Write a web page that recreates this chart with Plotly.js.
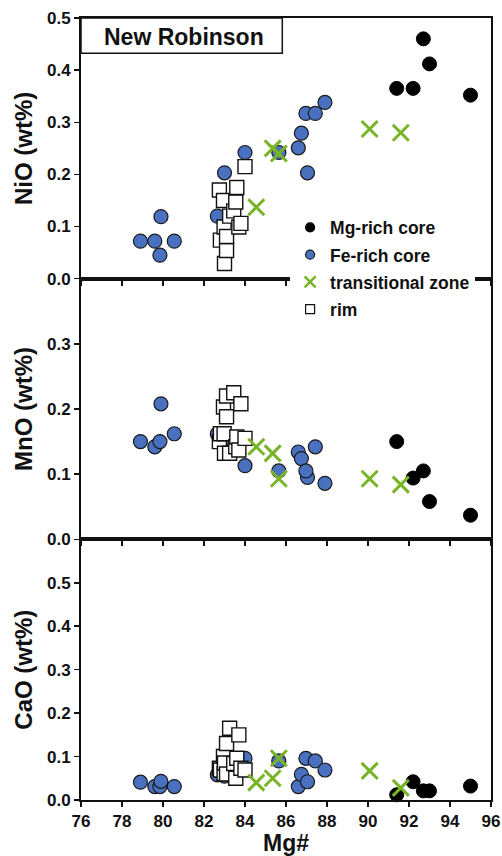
<!DOCTYPE html>
<html><head><meta charset="utf-8">
<script src="https://cdn.plot.ly/plotly-3.0.1.min.js"></script>
<style>html,body{margin:0;padding:0;background:#fff}</style>
</head><body><div id="chart" style="width:502px;height:856px"></div>
<script>
// Mg-rich core
const mgX   = [91.4, 92.2, 92.7, 93.0, 95.0];
const mgNiO = [0.365, 0.365, 0.460, 0.412, 0.352];
const mgMnO = [0.150, 0.094, 0.105, 0.058, 0.037];
const mgCaO = [0.012, 0.042, 0.021, 0.021, 0.032];
// Fe-rich core
const feX   = [78.9, 79.6, 79.85, 79.9, 80.55, 82.65, 83.0, 84.0, 85.65, 86.6, 86.75, 87.05, 86.97, 87.43, 87.9];
const feNiO = [0.072, 0.072, 0.045, 0.119, 0.072, 0.120, 0.203, 0.242, 0.242, 0.251, 0.279, 0.203, 0.317, 0.317, 0.338];
const feMnO = [0.150, 0.142, 0.150, 0.208, 0.162, 0.162, 0.155, 0.113, 0.105, 0.134, 0.124, 0.095, 0.105, 0.142, 0.086];
const feCaO = [0.041, 0.031, 0.031, 0.043, 0.031, 0.058, 0.055, 0.096, 0.090, 0.031, 0.059, 0.042, 0.096, 0.090, 0.069];
// transitional zone
const tzX   = [84.55, 85.35, 85.65, 90.08, 91.6];
const tzNiO = [0.137, 0.250, 0.240, 0.287, 0.280];
const tzMnO = [0.142, 0.132, 0.093, 0.093, 0.084];
const tzCaO = [0.040, 0.050, 0.096, 0.067, 0.028];
// rim
const rimX   = [82.75, 82.8, 82.95, 82.98, 83.0, 83.1, 83.1, 83.25, 83.45, 83.55, 83.6, 83.7, 83.8, 84.0];
const rimNiO = [0.170, 0.074, 0.150, 0.099, 0.029, 0.054, 0.081, 0.120, 0.130, 0.147, 0.175, 0.099, 0.106, 0.215];
const rimMnO = [0.150, 0.162, 0.203, 0.162, 0.132, 0.188, 0.220, 0.132, 0.225, 0.142, 0.157, 0.137, 0.208, 0.155];
const rimCaO = [0.073, 0.069, 0.100, 0.061, 0.085, 0.060, 0.130, 0.165, 0.084, 0.050, 0.096, 0.150, 0.073, 0.069];

const xTicks = [76, 78, 80, 82, 84, 86, 88, 90, 92, 94, 96];
const yTicksNiO = [0, 0.1, 0.2, 0.3, 0.4, 0.5];
const yTicksMnO = [0, 0.1, 0.2, 0.3];
const yTicksCaO = [0, 0.1, 0.2, 0.3, 0.4, 0.5];
const seriesNames = ['Mg-rich core', 'Fe-rich core', 'transitional zone', 'rim'];
const panelTitles = ['NiO (wt%)', 'MnO (wt%)', 'CaO (wt%)'];

const FONT = '"Liberation Sans", Arial, sans-serif';
const INK = '#111111';
const BLUE = '#4A70C0';
const GREEN = '#78B526';

const styles = {
  'Mg-rich core': {symbol: 'circle', color: '#000000', line: {color: '#000000', width: 1}},
  'Fe-rich core': {symbol: 'circle', color: BLUE, line: {color: '#1a1a1a', width: 1.2}},
  'rim': {symbol: 'square', color: '#ffffff', line: {color: '#111111', width: 1.4}},
  'transitional zone': {symbol: 'x-thin', color: GREEN, line: {color: GREEN, width: 3}}
};
const sizes = {'Mg-rich core': 14, 'Fe-rich core': 14, 'rim': 14, 'transitional zone': 16};

const panels = [
  {xa: 'x',  ya: 'y',  mg: mgNiO, fe: feNiO, tz: tzNiO, rim: rimNiO},
  {xa: 'x2', ya: 'y2', mg: mgMnO, fe: feMnO, tz: tzMnO, rim: rimMnO},
  {xa: 'x3', ya: 'y3', mg: mgCaO, fe: feCaO, tz: tzCaO, rim: rimCaO}
];

const traces = [];
panels.forEach(p => {
  const groups = [
    ['Mg-rich core', mgX, p.mg],
    ['Fe-rich core', feX, p.fe],
    ['rim', rimX, p.rim],
    ['transitional zone', tzX, p.tz]
  ];
  groups.forEach(([name, xs, ys]) => {
    const s = styles[name];
    traces.push({
      type: 'scatter', mode: 'markers', name: name, x: xs, y: ys,
      xaxis: p.xa, yaxis: p.ya, showlegend: false, cliponaxis: false,
      marker: {symbol: s.symbol, size: sizes[name], color: s.color, line: s.line}
    });
  });
});
// legend entries (smaller symbols, like the reference legend)
seriesNames.forEach(name => {
  const s = styles[name];
  traces.push({
    type: 'scatter', mode: 'markers', name: name, x: [null], y: [null],
    xaxis: 'x', yaxis: 'y', showlegend: true, legendgroup: name,
    marker: {symbol: s.symbol, size: name === 'transitional zone' ? 11 : 9, color: s.color,
             line: {color: s.line.color, width: name === 'transitional zone' ? 2.5 : 1.2}}
  });
});

const bold = v => '<b>' + v + '</b>';
const tickFont = {family: FONT, size: 17, color: INK, weight: 'bold'};
const baseAxis = {
  showline: true, linewidth: 2, linecolor: INK, mirror: true,
  ticks: 'outside', ticklen: 5, tickwidth: 1.5, tickcolor: INK,
  showgrid: false, zeroline: false, tickfont: tickFont, automargin: false
};
function xAxis(anchor, labels) {
  return Object.assign({}, baseAxis, {
    anchor: anchor, domain: [0, 1], range: [76, 96],
    tickmode: 'array', tickvals: xTicks, ticktext: xTicks.map(v => bold(v)),
    showticklabels: labels
  });
}
function yAxis(anchor, dom, range, vals, title) {
  return Object.assign({}, baseAxis, {
    anchor: anchor, domain: dom, range: range,
    tickmode: 'array', tickvals: vals, ticktext: vals.map(v => bold(v.toFixed(1))),
    title: {text: title, font: {family: FONT, size: 24, color: INK, weight: 'bold'}, standoff: 8}
  });
}

const layout = {
  width: 502, height: 856,
  margin: {l: 81, r: 11, t: 18, b: 56},
  paper_bgcolor: '#ffffff', plot_bgcolor: '#ffffff',
  showlegend: true,
  legend: {
    x: 0.51, xanchor: 'left', y: 0.755, yanchor: 'top',
    bgcolor: '#ffffff', borderwidth: 0,
    font: {family: FONT, size: 17.5, color: INK, weight: 'bold'},
    itemsizing: 'trace', traceorder: 'grouped', tracegroupgap: 1.5
  },
  xaxis: xAxis('y', false),
  xaxis2: xAxis('y2', false),
  xaxis3: Object.assign(xAxis('y3', true), {
    title: {text: 'Mg#', font: {family: FONT, size: 23, color: INK, weight: 'bold'}, standoff: 0}
  }),
  yaxis: yAxis('x', [2/3, 1], [0, 0.5], yTicksNiO, panelTitles[0]),
  yaxis2: yAxis('x2', [1/3, 2/3], [0, 0.4], yTicksMnO, panelTitles[1]),
  yaxis3: yAxis('x3', [0, 1/3], [0, 0.6], yTicksCaO, panelTitles[2]),
  shapes: [{
    type: 'rect', xref: 'x domain', yref: 'y domain',
    x0: 0, x1: 0.491, y0: 0.865, y1: 1,
    line: {color: INK, width: 1.5}, fillcolor: '#ffffff', layer: 'above'
  }],
  annotations: [{
    text: 'New Robinson', xref: 'x domain', yref: 'y domain',
    x: 0.2516, y: 0.929, xanchor: 'center', yanchor: 'middle', showarrow: false,
    font: {family: FONT, size: 23, color: INK, weight: 'bold'}
  }]
};

Plotly.newPlot('chart', traces, layout, {staticPlot: true, displayModeBar: false});
</script>
</body></html>
